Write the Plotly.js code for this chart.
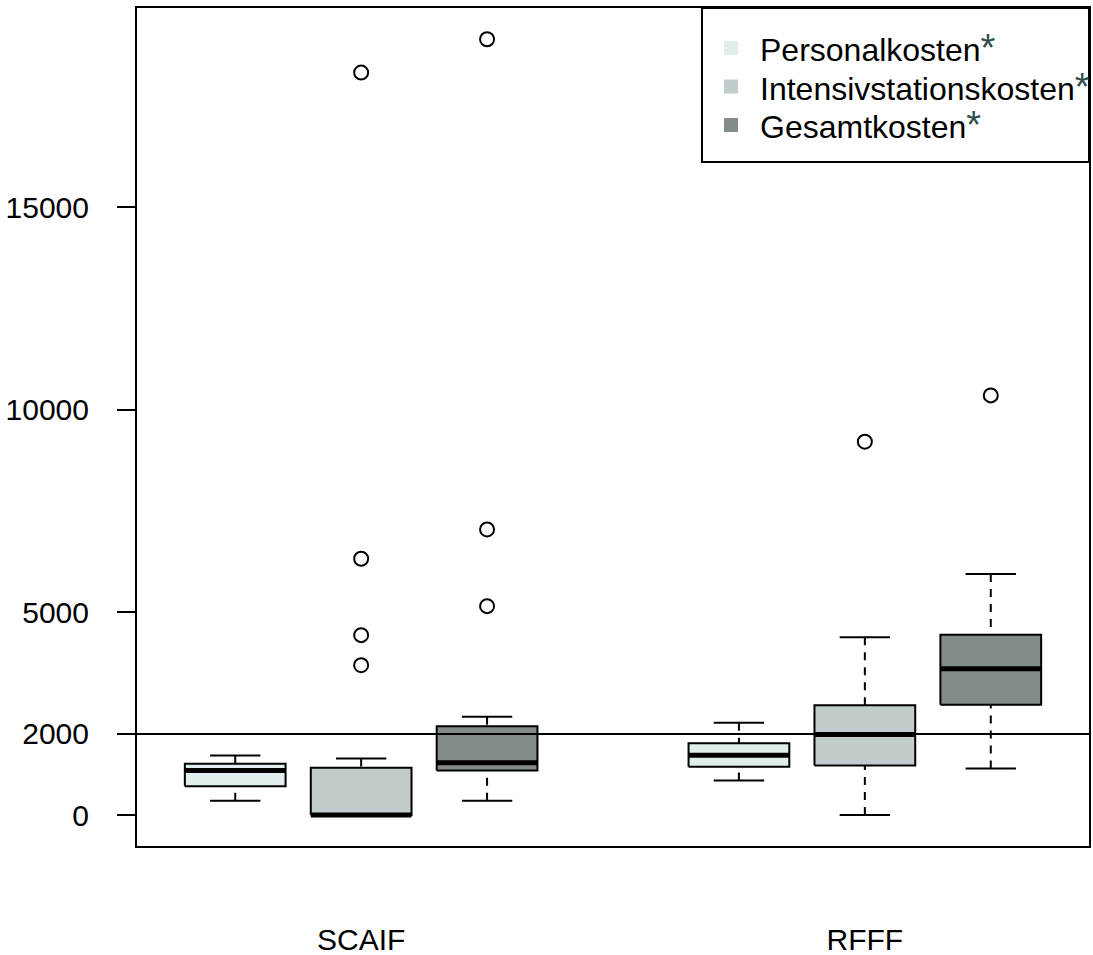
<!DOCTYPE html>
<html><head><meta charset="utf-8">
<script src="https://cdn.plot.ly/plotly-3.0.1.min.js"></script>
<style>html,body{margin:0;padding:0;background:#fff}#chart{width:1093px;height:955px}</style>
</head><body><div id="chart"></div>
<script>
// ---- data ----
const groups = ['SCAIF', 'RFFF'];
const groupPositions = [2, 6];
const seriesNames = ['Personalkosten', 'Intensivstationskosten', 'Gesamtkosten'];
const seriesColors = ['#E0EEEE', '#C1CDCD', '#838B8B'];
const boxPositions = [[1, 5], [2, 6], [3, 7]];
// per group: [lower whisker, Q1, median, Q3, upper whisker]
const personalStats = [[351, 711, 1099, 1264, 1469], [852, 1190, 1477, 1773, 2277]];
const intensivStats = [[0, 0, 0, 1165, 1395], [0, 1222, 1988, 2711, 4390]];
const gesamtStats   = [[351, 1099, 1289, 2193, 2425], [1148, 2721, 3610, 4449, 5946]];
const personalOutliers = [[], []];
const intensivOutliers = [[3699, 4440, 6326, 18326], [9215]];
const gesamtOutliers   = [[5156, 7049, 19148], [10358]];
const yTicks = [0, 2000, 5000, 10000, 15000];
const refLine = 2000;

// ---- style ----
const FONT = 'Liberation Sans, Arial, Helvetica, sans-serif';
const BOXW = 0.4, CAPW = 0.2;
const W = 1093, H = 955, ML = 137, MR = 4, MT = 8, MB = 109;
const plotW = W - ML - MR, plotH = H - MT - MB;
const px2x = p => (p - ML) / plotW;
const px2y = p => (H - MB - p) / plotH;

const allStats = [personalStats, intensivStats, gesamtStats];
const allOut = [personalOutliers, intensivOutliers, gesamtOutliers];
const traces = [];

allStats.forEach((stats, s) => {
  stats.forEach((st, g) => {
    const p = boxPositions[s][g];
    const [lo, q1, med, q3, hi] = st;
    traces.push({type: 'scatter', mode: 'lines', x: [p - BOXW, p + BOXW, p + BOXW, p - BOXW, p - BOXW],
      y: [q1, q1, q3, q3, q1], fill: 'toself', fillcolor: seriesColors[s],
      line: {color: '#000', width: 2}, hoverinfo: 'skip'});
    traces.push({type: 'scatter', mode: 'lines', x: [p, p, null, p, p], y: [hi, q3, null, lo, q1],
      line: {color: '#000', width: 2, dash: '8px,7px'}, hoverinfo: 'skip'});
    traces.push({type: 'scatter', mode: 'lines', x: [p - CAPW, p + CAPW, null, p - CAPW, p + CAPW],
      y: [hi, hi, null, lo, lo], line: {color: '#000', width: 2}, hoverinfo: 'skip'});
    traces.push({type: 'scatter', mode: 'lines', x: [p - BOXW, p + BOXW], y: [med, med],
      line: {color: '#000', width: 5}, hoverinfo: 'skip'});
    const o = allOut[s][g];
    if (o.length) traces.push({type: 'scatter', mode: 'markers', x: o.map(() => p), y: o,
      marker: {symbol: 'circle-open', size: 14, color: '#000', line: {width: 2, color: '#000'}}, hoverinfo: 'skip'});
  });
});

// ---- legend (manual, R style) ----
const shapes = [
  {type: 'line', xref: 'paper', yref: 'y', x0: 0, x1: 1, y0: refLine, y1: refLine,
   line: {color: '#000', width: 2}, layer: 'above'},
  {type: 'rect', xref: 'paper', yref: 'paper', x0: px2x(702), x1: 1, y0: px2y(162), y1: 1,
   line: {color: '#000', width: 2}, fillcolor: 'rgba(255,255,255,1)', layer: 'above'}
];
const annotations = [];
const rowCenters = [48, 86.5, 125];
seriesNames.forEach((name, i) => {
  const cy = rowCenters[i];
  shapes.push({type: 'rect', xref: 'paper', yref: 'paper', x0: px2x(724), x1: px2x(738),
    y0: px2y(cy + 7), y1: px2y(cy - 7), line: {width: 0}, fillcolor: seriesColors[i], layer: 'above'});
  annotations.push({xref: 'paper', yref: 'paper', x: px2x(758), y: px2y(cy), xanchor: 'left', yanchor: 'middle',
    showarrow: false, text: name + '<span style="color:#2F4F4F;font-size:38px">*</span>',
    font: {family: FONT, size: 32, color: '#000'}});
});

const layout = {
  width: W, height: H,
  margin: {l: ML, r: MR, t: MT, b: MB},
  paper_bgcolor: '#fff', plot_bgcolor: '#fff',
  showlegend: false,
  font: {family: FONT, size: 30, color: '#000'},
  xaxis: {range: [0.22, 7.78], showgrid: false, zeroline: false, showline: true, mirror: true,
    linecolor: '#000', linewidth: 2, tickvals: groupPositions, ticktext: groups, ticks: '',
    tickfont: {family: FONT, size: 30, color: '#000'}, ticklabelstandoff: 66, fixedrange: true},
  yaxis: {range: [-765, 19920], showgrid: false, zeroline: false, showline: true, mirror: true,
    linecolor: '#000', linewidth: 2, tickvals: yTicks, ticktext: yTicks.map(String),
    ticks: 'outside', ticklen: 18, tickwidth: 2, tickcolor: '#000',
    tickfont: {family: FONT, size: 30, color: '#000'}, ticklabelstandoff: 22, fixedrange: true},
  shapes: shapes,
  annotations: annotations
};

Plotly.newPlot('chart', traces, layout, {staticPlot: true, displayModeBar: false});
</script>
</body></html>
